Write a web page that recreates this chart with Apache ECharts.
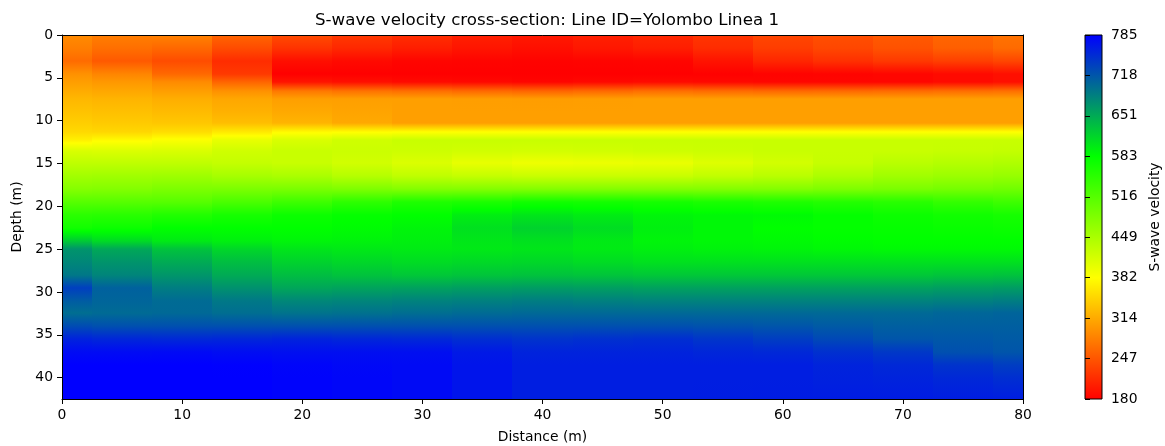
<!DOCTYPE html>
<html>
<head>
<meta charset="utf-8">
<script src="https://cdn.jsdelivr.net/npm/echarts@6/dist/echarts.min.js"></script>
<style>
  html, body { margin: 0; padding: 0; background: #ffffff; }
  #chart { width: 1165px; height: 446px; }
</style>
</head>
<body>
<div id="chart"></div>
<script>
// Station positions along the line (m)
const distances = [0, 5, 10, 15, 20, 25, 30, 35, 40, 45, 50, 55, 60, 65, 70, 75, 80];
// Sample depths of each velocity profile (m)
const depths = [0, 1.5, 3, 4.5, 5.5, 6.5, 7.5, 9, 10.3, 11.3, 12.3, 13.5, 15, 16.5, 18, 19.5,
                21, 22.5, 24, 25, 26.5, 28, 29.5, 31, 32.5, 34, 35.5, 37, 38.5, 40, 42.5];

// S-wave velocity profiles (m/s), one per station, listed top to bottom
const vsAt0  = [290,280,265,295,305,315,325,334,343,352,370,412,432,455,478,515,550,570,625,668,678,690,735,712,698,725,758,776,785,785,785];
const vsAt5  = [280,268,250,285,300,312,322,332,340,350,378,410,432,457,480,515,552,575,612,652,668,680,708,705,700,722,755,776,785,785,785];
const vsAt10 = [283,262,240,262,290,305,318,328,337,355,385,412,432,458,485,515,558,583,600,631,650,666,686,700,702,722,753,777,785,785,785];
const vsAt15 = [260,240,215,225,260,295,312,320,330,365,400,420,428,452,486,525,566,583,595,615,635,650,670,690,698,722,755,775,784,785,785];
const vsAt20 = [239,220,192,180,196,275,306,314,322,378,412,425,425,449,487,535,575,583,591,603,619,635,654,678,694,722,757,773,781,783,783];
const vsAt25 = [225,212,188,180,192,270,306,310,314,380,420,423,418,440,484,548,580,586,593,601,615,631,656,680,696,722,755,773,779,780,780];
const vsAt30 = [216,204,184,180,188,267,306,306,306,382,425,421,410,432,480,560,583,591,595,599,611,627,658,682,698,722,753,773,777,777,777];
const vsAt35 = [205,197,183,180,186,263,305,306,306,382,425,419,400,428,480,562,597,608,602,601,613,629,660,684,700,722,749,765,769,769,769];
const vsAt40 = [200,192,182,180,184,260,304,306,306,382,425,417,394,425,480,570,603,619,607,603,615,631,662,686,702,722,745,757,761,761,761];
const vsAt45 = [205,198,183,180,186,263,305,306,306,382,425,419,396,425,480,568,598,610,600,599,611,629,660,684,702,722,747,757,761,761,761];
const vsAt50 = [212,204,184,180,188,267,306,306,306,382,425,421,398,425,480,567,591,595,591,595,607,627,658,682,702,722,749,757,761,761,761];
const vsAt55 = [222,215,195,181,186,265,306,306,306,382,425,423,408,431,480,563,589,589,589,593,607,627,658,682,702,720,743,755,761,761,762];
const vsAt60 = [235,228,210,182,185,262,306,306,306,382,425,425,417,437,480,560,587,583,587,591,607,627,658,682,702,718,737,753,761,761,763];
const vsAt65 = [242,236,218,183,185,263,306,306,306,382,425,425,427,447,484,556,581,581,585,589,607,627,658,682,702,714,728,747,757,759,763];
const vsAt70 = [250,245,225,185,185,265,306,306,306,382,425,425,437,457,487,552,575,579,583,587,607,627,658,682,702,710,718,741,753,757,763];
const vsAt75 = [260,255,230,188,188,266,306,306,306,382,425,427,441,461,491,543,571,577,583,587,607,629,660,684,704,710,716,722,745,753,762];
const vsAt80 = [270,265,235,192,192,268,306,306,306,382,425,429,445,465,495,535,567,575,583,587,607,631,662,686,706,710,714,718,737,749,761];

// Colour scale and tick labels
const vMin = 180, vMax = 785;
const colorbarTicks = [180, 247.2, 314.4, 381.7, 448.9, 516.1, 583.3, 650.6, 717.8, 785];
const depthTicks = [0, 5, 10, 15, 20, 25, 30, 35, 40];
const cmapColors = ['#ff0000', '#ffff00', '#00ff00', '#0000ff'];

const profiles = [vsAt0, vsAt5, vsAt10, vsAt15, vsAt20, vsAt25, vsAt30, vsAt35, vsAt40,
                  vsAt45, vsAt50, vsAt55, vsAt60, vsAt65, vsAt70, vsAt75, vsAt80];

function cmap(v) {
  const t = Math.min(1, Math.max(0, (v - vMin) / (vMax - vMin)));
  return echarts.color.lerp(t, cmapColors);
}

// Gradient between two samples, passing through every colour-map knot in between
function gradientStops(v0, v1) {
  const stops = [{ offset: 0, color: cmap(v0) }];
  const lo = Math.min(v0, v1), hi = Math.max(v0, v1);
  const n = cmapColors.length - 1;
  for (let k = 1; k < n; k++) {
    const kv = vMin + k * (vMax - vMin) / n;
    if (kv > lo && kv < hi) stops.push({ offset: (kv - v0) / (v1 - v0), color: cmap(kv) });
  }
  stops.push({ offset: 1, color: cmap(v1) });
  stops.sort((a, b) => a.offset - b.offset);
  return stops;
}

// One cell per station and depth interval: [xLeft, xRight, depthTop, depthBottom, vTop, vBottom]
const cells = [];
distances.forEach((x, j) => {
  const xl = j === 0 ? x : (distances[j - 1] + x) / 2;
  const xr = j === distances.length - 1 ? x : (x + distances[j + 1]) / 2;
  for (let i = 0; i < depths.length - 1; i++) {
    cells.push([xl, xr, depths[i], depths[i + 1], profiles[j][i], profiles[j][i + 1]]);
  }
});

const font = 'DejaVu Sans';
const txt = { color: '#000', fontFamily: font, fontSize: 13.9 };

const chart = echarts.init(document.getElementById('chart'), null, { renderer: 'canvas' });

chart.setOption({
  animation: false,
  backgroundColor: '#ffffff',
  title: {
    text: 'S-wave velocity cross-section: Line ID=Yolombo Linea 1',
    left: 542, top: 7, textAlign: 'center',
    textStyle: { color: '#000', fontFamily: font, fontSize: 16.67, fontWeight: 'normal' }
  },
  grid: [
    { left: 62, top: 35, width: 961, height: 364, outerBoundsMode: 'none', containLabel: false },
    { left: 1085, top: 35, width: 17, height: 364, outerBoundsMode: 'none', containLabel: false }
  ],
  xAxis: [
    {
      gridIndex: 0, type: 'value', min: 0, max: 80, interval: 10, position: 'bottom', z: 10,
      name: 'Distance (m)', nameLocation: 'middle', nameGap: 31, nameTextStyle: txt,
      axisLine: { show: true, onZero: false, lineStyle: { color: '#000', width: 1 } },
      axisTick: { show: true, length: 5, lineStyle: { color: '#000', width: 1 } },
      axisLabel: Object.assign({ margin: 9 }, txt),
      splitLine: { show: false }
    },
    {
      gridIndex: 0, type: 'value', min: 0, max: 80, position: 'top', z: 10,
      axisLine: { show: true, onZero: false, lineStyle: { color: '#000', width: 1 } },
      axisTick: { show: false }, axisLabel: { show: false }, splitLine: { show: false }
    },
    { gridIndex: 1, type: 'value', min: 0, max: 1, show: false }
  ],
  yAxis: [
    {
      gridIndex: 0, type: 'value', min: 0, max: 42.5, inverse: true, position: 'left', z: 10,
      name: 'Depth (m)', nameLocation: 'middle', nameGap: 38, nameRotate: 90, nameTextStyle: txt,
      axisLine: { show: true, onZero: false, lineStyle: { color: '#000', width: 1 } },
      axisTick: { show: true, length: 5, customValues: depthTicks, lineStyle: { color: '#000', width: 1 } },
      axisLabel: Object.assign({ margin: 9, customValues: depthTicks }, txt),
      splitLine: { show: false }
    },
    {
      gridIndex: 0, type: 'value', min: 0, max: 42.5, inverse: true, position: 'right', z: 10,
      axisLine: { show: true, onZero: false, lineStyle: { color: '#000', width: 1 } },
      axisTick: { show: false }, axisLabel: { show: false }, splitLine: { show: false }
    },
    {
      gridIndex: 1, type: 'value', min: vMin, max: vMax, position: 'right', z: 10,
      name: 'S-wave velocity', nameLocation: 'middle', nameGap: 46, nameRotate: 90, nameTextStyle: txt,
      axisLine: { show: false },
      axisTick: { show: true, length: 5, customValues: colorbarTicks, lineStyle: { color: '#000', width: 1 } },
      axisLabel: Object.assign({ margin: 9, customValues: colorbarTicks, formatter: v => String(Math.round(v)) }, txt),
      splitLine: { show: false }
    }
  ],
  series: [
    {
      type: 'custom',
      xAxisIndex: 0, yAxisIndex: 0,
      clip: true,
      encode: { x: [0, 1], y: [2, 3] },
      data: cells,
      renderItem: function (params, api) {
        const p0 = api.coord([api.value(0), api.value(2)]);
        const p1 = api.coord([api.value(1), api.value(3)]);
        // snap to whole pixels so neighbouring cells meet without hairline seams
        const x0 = Math.round(p0[0]), y0 = Math.round(p0[1]);
        const x1 = Math.round(p1[0]), y1 = Math.round(p1[1]);
        return {
          type: 'rect',
          shape: { x: x0, y: y0, width: x1 - x0, height: y1 - y0 },
          style: { fill: new echarts.graphic.LinearGradient(0, 0, 0, 1, gradientStops(api.value(4), api.value(5))) }
        };
      }
    },
    {
      type: 'custom',
      xAxisIndex: 2, yAxisIndex: 2,
      data: [[0, 1, vMin, vMax]],
      renderItem: function (params, api) {
        const p0 = api.coord([api.value(0), api.value(3)]);
        const p1 = api.coord([api.value(1), api.value(2)]);
        return {
          type: 'rect',
          shape: { x: p0[0], y: p0[1], width: p1[0] - p0[0], height: p1[1] - p0[1] },
          style: {
            fill: new echarts.graphic.LinearGradient(0, 0, 0, 1, gradientStops(vMax, vMin)),
            stroke: '#000', lineWidth: 1
          }
        };
      }
    }
  ]
});
</script>
</body>
</html>
